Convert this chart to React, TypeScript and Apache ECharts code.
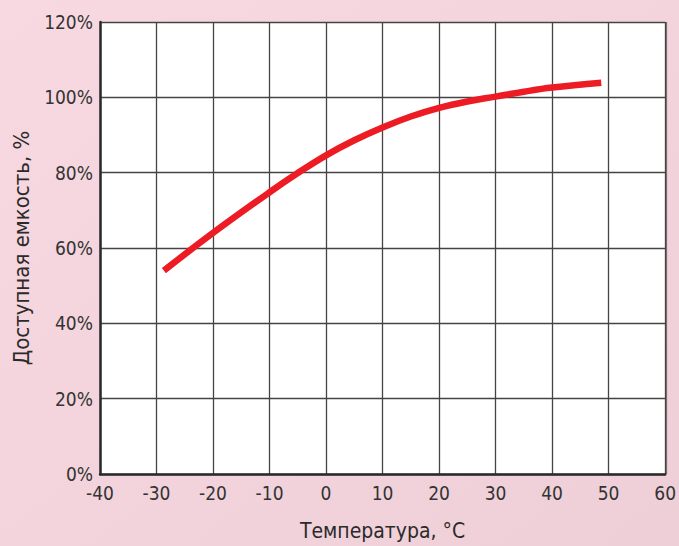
import React, { useEffect, useRef } from "react";
import * as echarts from "echarts";

const temperatures = [-28.7, -20, -10, -5, 0, 5, 10, 15, 20, 25, 30, 35, 40, 48.7];
const capacity = [54.0, 64.0, 74.8, 79.9, 84.6, 88.6, 92.0, 94.9, 97.2, 98.9, 100.2, 101.5, 102.6, 103.9];
const xTicks = [-40, -30, -20, -10, 0, 10, 20, 30, 40, 50, 60];
const yTicks = [0, 20, 40, 60, 80, 100, 120];

const FONT = '"Liberation Sans Narrow", "DejaVu Sans Condensed", "Roboto", sans-serif';

export default function App() {
  const ref = useRef<HTMLDivElement>(null);
  useEffect(() => {
    if (!ref.current) return;
    const chart = echarts.init(ref.current, undefined, { renderer: "svg" });
    chart.setOption({
      animation: false,
      backgroundColor: new echarts.graphic.LinearGradient(0, 0, 1, 1, [
        { offset: 0, color: "#f9d9e1" },
        { offset: 1, color: "#eecfd7" },
      ]),
      grid: {
        left: 100,
        top: 22,
        width: 567,
        height: 454,
        show: true,
        backgroundColor: "#ffffff",
        borderWidth: 0,
        shadowColor: "rgba(0,0,0,0.45)",
        shadowOffsetX: 2,
        shadowOffsetY: 0,
        shadowBlur: 0,
      },
      xAxis: {
        type: "value",
        min: xTicks[0],
        max: xTicks[xTicks.length - 1],
        interval: 10,
        name: "Температура, °C",
        nameLocation: "middle",
        nameGap: 46,
        nameTextStyle: { fontFamily: FONT, fontSize: 21, color: "#2a2a2a" },
        axisLine: { show: true, onZero: false, lineStyle: { color: "#2a2a2a", width: 2.5 } },
        axisTick: { show: false },
        axisLabel: { fontFamily: FONT, fontSize: 19, color: "#333", margin: 9 },
        splitLine: { show: true, lineStyle: { color: "#444", width: 1.3 } },
      },
      yAxis: {
        type: "value",
        min: yTicks[0],
        max: yTicks[yTicks.length - 1],
        interval: 20,
        name: "Доступная емкость, %",
        nameLocation: "middle",
        nameGap: 68,
        nameTextStyle: { fontFamily: FONT, fontSize: 22, color: "#2a2a2a" },
        axisLine: { show: true, onZero: false, lineStyle: { color: "#2a2a2a", width: 2.5 } },
        axisTick: { show: false },
        axisLabel: {
          fontFamily: FONT,
          fontSize: 19,
          color: "#333",
          margin: 7,
          formatter: (v: number) => `${v}%`,
        },
        splitLine: { show: true, lineStyle: { color: "#444", width: 1.3 } },
      },
      series: [
        {
          type: "line",
          data: temperatures.map((t, i) => [t, capacity[i]]),
          smooth: 0.4,
          showSymbol: false,
          lineStyle: { color: "#ed1c24", width: 6.5, cap: "butt" },
        },
      ],
    });
    return () => chart.dispose();
  }, []);
  return <div ref={ref} style={{ position: "fixed", left: 0, top: 0, width: 679, height: 546 }} />;
}
